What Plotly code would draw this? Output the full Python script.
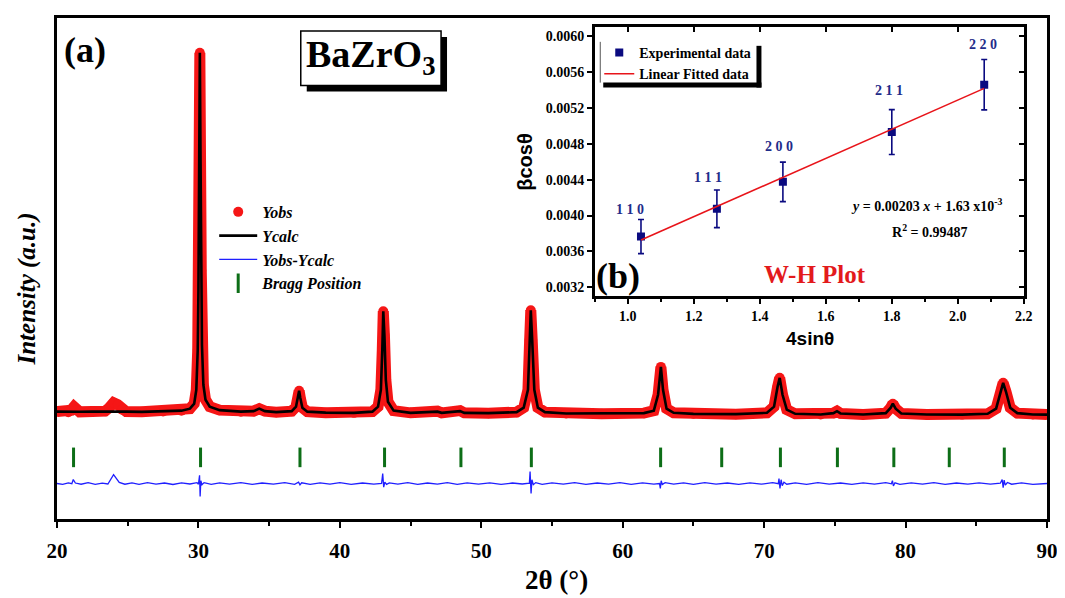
import plotly.graph_objects as go

# ---------------- Main Rietveld data ----------------
two_theta = [20.0, 20.8, 21.0, 21.2, 21.4, 21.6, 22.5, 23.4, 23.7, 24.0, 24.3, 24.6, 24.9,
             26.0, 27.5, 28.8, 29.4, 29.7, 29.85, 29.95, 30.0, 30.05, 30.1, 30.15, 30.2,
             30.25, 30.35, 30.5, 30.8, 31.5, 33.0, 33.9, 34.3, 34.7, 35.5, 36.6, 36.9,
             37.05, 37.12, 37.2, 37.35, 37.7, 39.0, 41.0, 42.3, 42.7, 42.9, 43.0, 43.07,
             43.15, 43.25, 43.4, 43.8, 45.0, 46.9, 47.2, 48.5, 48.8, 50.5, 52.5, 53.0,
             53.3, 53.42, 53.5, 53.6, 53.75, 54.0, 54.5, 56.0, 58.5, 61.5, 62.2, 62.5,
             62.7, 62.85, 63.1, 63.6, 65.0, 68.0, 70.2, 70.7, 70.95, 71.1, 71.3, 71.6,
             72.2, 74.0, 74.9, 75.15, 75.4, 77.0, 78.6, 78.95, 79.1, 79.3, 79.7, 81.5,
             84.0, 85.8, 86.4, 86.75, 86.9, 87.1, 87.4, 87.9, 89.0, 90.0]
y_obs = [1080, 1075, 1095, 1130, 1095, 1078, 1082, 1085, 1120, 1170, 1150, 1100, 1080,
         1078, 1082, 1090, 1110, 1160, 1300, 1700, 2300, 3200, 4690, 3600, 2500,
         1750, 1350, 1200, 1130, 1095, 1080, 1085, 1110, 1085, 1075, 1085, 1130,
         1240, 1290, 1220, 1120, 1080, 1070, 1068, 1080, 1130, 1300, 1700, 2090,
         1850, 1400, 1180, 1090, 1068, 1085, 1068, 1090, 1068, 1065, 1075, 1120,
         1300, 1800, 2100, 1800, 1300, 1120, 1075, 1062, 1060, 1065, 1090, 1250,
         1530, 1300, 1110, 1068, 1058, 1055, 1068, 1130, 1330, 1420, 1250, 1100,
         1058, 1052, 1065, 1085, 1062, 1052, 1065, 1120, 1160, 1110, 1062, 1052,
         1050, 1058, 1110, 1300, 1370, 1280, 1120, 1065, 1052, 1050]
y_calc = [1080, 1078, 1080, 1080, 1080, 1079, 1082, 1083, 1083, 1083, 1083, 1083, 1080,
          1078, 1082, 1090, 1110, 1160, 1300, 1700, 2300, 3200, 4690, 3600, 2500,
          1750, 1350, 1200, 1130, 1095, 1080, 1085, 1110, 1085, 1075, 1085, 1130,
          1240, 1290, 1220, 1120, 1080, 1070, 1068, 1080, 1130, 1300, 1700, 2090,
          1850, 1400, 1180, 1090, 1068, 1080, 1068, 1085, 1068, 1065, 1075, 1120,
          1300, 1800, 2100, 1800, 1300, 1120, 1075, 1062, 1060, 1065, 1090, 1250,
          1530, 1300, 1110, 1068, 1058, 1055, 1068, 1130, 1330, 1420, 1250, 1100,
          1058, 1052, 1065, 1085, 1062, 1052, 1065, 1120, 1160, 1110, 1062, 1052,
          1050, 1058, 1110, 1300, 1370, 1280, 1120, 1065, 1052, 1050]

diff_x = [20.0, 20.4, 20.8, 21.05, 21.15, 21.3, 21.7, 22.2, 22.7, 23.2, 23.6, 24.0, 24.4,
          24.8, 25.3, 25.8, 26.4, 27.0, 27.6, 28.2, 28.8, 29.4, 29.9, 30.0, 30.08, 30.12,
          30.17, 30.25, 30.4, 30.9, 31.5, 32.2, 33.0, 33.8, 34.5, 35.3, 36.1, 36.8, 37.08,
          37.18, 37.3, 37.9, 38.6, 39.3, 40.0, 40.8, 41.6, 42.4, 42.95, 43.03, 43.1, 43.18,
          43.3, 43.5, 44.1, 44.8, 45.5, 46.2, 46.9, 47.6, 48.3, 49.0, 49.8, 50.6, 51.4,
          52.2, 52.9, 53.4, 53.45, 53.52, 53.58, 53.68, 53.85, 54.3, 55.0, 55.8, 56.6,
          57.4, 58.2, 59.0, 59.8, 60.6, 61.4, 62.2, 62.6, 62.66, 62.72, 62.8, 63.0, 63.6,
          64.3, 65.0, 65.8, 66.6, 67.4, 68.2, 69.0, 69.8, 70.6, 71.0, 71.05, 71.12, 71.2,
          71.28, 71.4, 71.6, 72.2, 73.0, 73.8, 74.6, 75.4, 76.2, 77.0, 77.8, 78.6, 79.0,
          79.07, 79.14, 79.25, 79.6, 80.4, 81.2, 82.0, 82.8, 83.6, 84.4, 85.2, 86.0, 86.7,
          86.83, 86.9, 86.97, 87.05, 87.2, 87.5, 88.2, 89.0, 90.0]
diff_y = [357, 348, 364, 355, 397, 362, 350, 366, 349, 361, 352, 447, 368,
          350, 363, 348, 365, 351, 362, 347, 364, 352, 366, 350, 440, 227,
          385, 345, 366, 349, 363, 350, 366, 348, 362, 351, 365, 349, 370,
          343, 364, 348, 363, 350, 366, 349, 362, 351, 357, 457, 320, 372,
          348, 364, 350, 365, 348, 362, 351, 366, 349, 363, 350, 364, 348,
          362, 352, 360, 477, 257, 395, 345, 366, 349, 363, 350, 365,
          348, 362, 351, 366, 349, 363, 350, 357, 307, 385, 348, 366, 350,
          363, 349, 365, 351, 362, 348, 364, 350, 366, 355, 407, 307, 395,
          335, 370, 350, 363, 349, 365, 350, 362, 348, 364, 351, 366, 354,
          385, 332, 364, 349, 363, 350, 365, 348, 362, 351, 364, 350, 360,
          397, 315, 392, 340, 367, 350, 363, 349, 357]

bragg_pos = [21.17, 30.15, 37.18, 43.16, 48.56, 53.54, 62.68, 67.0, 71.15, 75.18,
             79.17, 83.09, 86.98]
bragg_level = [620] * len(bragg_pos)

# ---------------- Inset W-H data ----------------
wh_x = [1.04, 1.27, 1.47, 1.80, 2.08]
wh_y = [0.003766, 0.004075, 0.004375, 0.004929, 0.005457]
wh_err = [0.00019, 0.00021, 0.00022, 0.00025, 0.00028]
fit_x = [1.04, 2.08]
fit_y = [0.003728, 0.005416]
hkl_labels = ["1 1 0", "1 1 1", "2 0 0", "2 1 1", "2 2 0"]
hkl_x = [1.007, 1.242, 1.459, 1.791, 2.077]
hkl_y = [0.004067, 0.004418, 0.004771, 0.005394, 0.005900]

x_ticks = [20, 30, 40, 50, 60, 70, 80, 90]

SERIF = "Liberation Serif, Times New Roman, serif"
SANS = "Liberation Sans, Arial, sans-serif"
RED = "#f51616"
GREEN = "#0d6e17"
NAVY = "#0a0a80"
LBLUE = "#1f2d8a"

# page has an 8px body margin: figure sized so that it ends at the window edge
OFF = 8
W, H = 1065 - OFF, 598 - OFF
SX0, SX1, SY0, SY1 = 57, 1052, 15, 519          # plot area in screen pixels
L, R = SX0 - OFF, (W + OFF) - SX1
T, B = SY0 - OFF, (H + OFF) - SY1
PW, PH = SX1 - SX0, SY1 - SY0


def px(sx):
    return (sx - SX0) / PW


def py(sy):
    return (SY1 - sy) / PH


fig = go.Figure()

# Yobs band + dots
fig.add_trace(go.Scatter(x=two_theta, y=y_obs, mode="lines",
                         line=dict(color=RED, width=11), showlegend=False,
                         hoverinfo="skip"))
fig.add_trace(go.Scatter(x=two_theta, y=y_obs, mode="markers", name="Yobs",
                         marker=dict(color=RED, size=10), legend="legend"))
fig.add_trace(go.Scatter(x=two_theta, y=y_calc, mode="lines", name="Ycalc",
                         line=dict(color="black", width=2.6), legend="legend"))
fig.add_trace(go.Scatter(x=diff_x, y=diff_y, mode="lines", name="Yobs-Ycalc",
                         line=dict(color="#1f1fff", width=1.3), legend="legend"))
fig.add_trace(go.Scatter(x=bragg_pos, y=bragg_level, mode="markers", name="Bragg Position",
                         marker=dict(symbol="line-ns", size=14,
                                     line=dict(width=3, color=GREEN), color=GREEN),
                         legend="legend"))

# Inset
fig.add_trace(go.Scatter(x=wh_x, y=wh_y, mode="markers", name="Experimental data",
                         marker=dict(symbol="square", size=8, color=NAVY),
                         error_y=dict(type="data", array=wh_err, color=NAVY,
                                      thickness=1.6, width=3),
                         xaxis="x2", yaxis="y2", legend="legend2"))
fig.add_trace(go.Scatter(x=fit_x, y=fit_y, mode="lines", name="Linear Fitted data",
                         line=dict(color="#e8141a", width=1.6),
                         xaxis="x2", yaxis="y2", legend="legend2"))
fig.add_trace(go.Scatter(x=fit_x, y=fit_y, mode="lines", opacity=0, showlegend=False,
                         hoverinfo="skip", xaxis="x3", yaxis="y3"))

inset_dom_x = [px(597.5), px(1028.7)]
inset_dom_y = [py(295), py(24)]

fig.update_layout(
    width=W, height=H,
    margin=dict(l=L, r=R, t=T, b=B),
    paper_bgcolor="white", plot_bgcolor="white",
    font=dict(family=SERIF, color="black"),
    xaxis=dict(domain=[0, 1], range=[20, 90], tickvals=x_ticks, ticks="outside",
               ticklen=6, tickwidth=2, tickcolor="black",
               minor=dict(dtick=5, ticks="outside", ticklen=4, tickwidth=2, tickcolor="black"),
               showline=True, linewidth=3, linecolor="black", mirror=True,
               showgrid=False, zeroline=False, ticklabelstandoff=5,
               tickfont=dict(family=SERIF, size=21, weight="bold")),
    yaxis=dict(domain=[0, 1], range=[0, 5040], showticklabels=False, ticks="",
               showline=True, linewidth=3, linecolor="black", mirror=True,
               showgrid=False, zeroline=False),
    xaxis2=dict(domain=inset_dom_x, anchor="y2", range=[0.9, 2.2], tick0=1.0, dtick=0.2,
                tickformat=".1f", ticks="outside", ticklen=5, tickwidth=2, tickcolor="black",
                minor=dict(dtick=0.1, ticks="outside", ticklen=3, tickwidth=1.5, tickcolor="black"),
                showline=True, linewidth=2.5, linecolor="black", mirror=True,
                showgrid=False, zeroline=False, ticklabelstandoff=0,
                tickfont=dict(family=SERIF, size=14, weight="bold")),
    yaxis2=dict(domain=inset_dom_y, anchor="x2", range=[0.0031, 0.0061], tick0=0.0032,
                dtick=0.0004, tickformat=".4f", ticks="outside", ticklen=5, tickwidth=2,
                tickcolor="black", showline=True, linewidth=2.5, linecolor="black",
                mirror=True, showgrid=False, zeroline=False,
                tickfont=dict(family=SERIF, size=14, weight="bold")),
    xaxis3=dict(domain=inset_dom_x, anchor="y3", overlaying="x2", side="top",
                range=[0.9, 2.2], tick0=1.0, dtick=0.2, ticks="inside", ticklen=5,
                tickwidth=2, tickcolor="black", showticklabels=False, showline=False,
                showgrid=False, zeroline=False),
    yaxis3=dict(domain=inset_dom_y, anchor="x3", overlaying="y2", side="right",
                range=[0.0031, 0.0061], tick0=0.0032, dtick=0.0004, ticks="inside",
                ticklen=5, tickwidth=2, tickcolor="black", showticklabels=False,
                showline=False, showgrid=False, zeroline=False),
    legend=dict(x=px(215), y=py(193), xanchor="left", yanchor="top",
                bgcolor="rgba(0,0,0,0)", borderwidth=0, tracegroupgap=0, itemwidth=38,
                font=dict(family=SERIF, size=16, weight="bold", style="italic")),
    legend2=dict(x=px(602), y=py(34), xanchor="left", yanchor="top",
                 bgcolor="rgba(0,0,0,0)", borderwidth=0,
                 font=dict(family=SERIF, size=14, weight="bold")),
    showlegend=True,
)

shapes = [
    # BaZrO3 box with shadow
    dict(type="rect", xref="paper", yref="paper", x0=px(308), x1=px(449), y0=py(89), y1=py(34),
         fillcolor="black", line=dict(width=0)),
    dict(type="rect", xref="paper", yref="paper", x0=px(302), x1=px(443), y0=py(83), y1=py(28),
         fillcolor="white", line=dict(color="black", width=1.5)),
    # inset legend frame: thin left edge, heavy right and bottom edges
    dict(type="line", xref="paper", yref="paper", x0=px(603), x1=px(603), y0=py(80), y1=py(39),
         line=dict(color="#555555", width=1)),
    dict(type="rect", xref="paper", yref="paper", x0=px(760), x1=px(765), y0=py(85), y1=py(43),
         fillcolor="black", line=dict(width=0)),
    dict(type="rect", xref="paper", yref="paper", x0=px(606), x1=px(765), y0=py(85), y1=py(80),
         fillcolor="black", line=dict(width=0)),
]
fig.update_layout(shapes=shapes)

ann = [
    dict(text="(a)", x=px(62), y=py(47), xref="paper", yref="paper", xanchor="left",
         yanchor="middle", showarrow=False, font=dict(family=SERIF, size=36, weight="bold")),
    dict(text="BaZrO<sub>3</sub>", x=px(372), y=py(54), xref="paper", yref="paper",
         xanchor="center", yanchor="middle", showarrow=False,
         font=dict(family=SERIF, size=38, weight="bold")),
    dict(text="Intensity (a.u.)", x=px(27), y=py(288), xref="paper", yref="paper",
         textangle=-90, showarrow=False, xanchor="center", yanchor="middle",
         font=dict(family=SERIF, size=25, weight="bold", style="italic")),
    dict(text="2θ (°)", x=px(559), y=py(580), xref="paper", yref="paper",
         showarrow=False, xanchor="center", yanchor="middle",
         font=dict(family=SERIF, size=27, weight="bold")),
    dict(text="βcosθ", x=px(527), y=py(160), xref="paper", yref="paper",
         textangle=-90, showarrow=False, xanchor="center", yanchor="middle",
         font=dict(family=SANS, size=20, weight="bold")),
    dict(text="4sinθ", x=px(814), y=py(337), xref="paper", yref="paper",
         showarrow=False, xanchor="center", yanchor="middle",
         font=dict(family=SANS, size=19, weight="bold")),
    dict(text="(b)", x=0.971, y=0.003322, xref="x2", yref="y2", showarrow=False,
         xanchor="center", yanchor="middle", font=dict(family=SERIF, size=36, weight="bold")),
    dict(text="W-H Plot", x=1.568, y=0.003344, xref="x2", yref="y2", showarrow=False,
         xanchor="center", yanchor="middle",
         font=dict(family=SERIF, size=25, weight="bold", color="#e31a1c")),
    dict(text="<i>y</i> = 0.00203 <i>x</i> + 1.63 x10<sup>-3</sup>", x=1.906, y=0.004122,
         xref="x2", yref="y2", showarrow=False, xanchor="center", yanchor="middle",
         font=dict(family=SERIF, size=14, weight="bold")),
    dict(text="R<sup>2</sup> = 0.99487", x=1.915, y=0.003833, xref="x2", yref="y2",
         showarrow=False, xanchor="center", yanchor="middle",
         font=dict(family=SERIF, size=14, weight="bold")),
]
for lab, hx, hy in zip(hkl_labels, hkl_x, hkl_y):
    ann.append(dict(text=lab, x=hx, y=hy, xref="x2", yref="y2", showarrow=False,
                    xanchor="center", yanchor="middle",
                    font=dict(family=SERIF, size=14, weight="bold", color=LBLUE)))
fig.update_layout(annotations=ann)

fig.write_html("out.html")
